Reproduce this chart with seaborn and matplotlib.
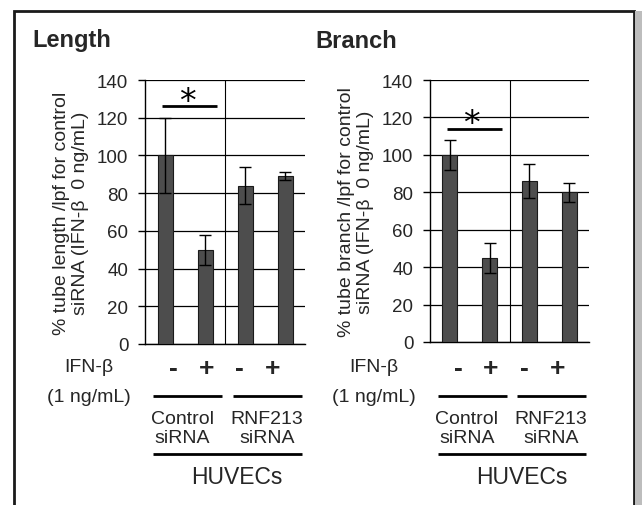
import matplotlib
matplotlib.use("Agg")
import matplotlib.pyplot as plt
import matplotlib.transforms as mtransforms
from matplotlib.patches import Rectangle
import seaborn as sns
import pandas as pd

# ---- data ----
conditions = ["Control -", "Control +", "RNF213 -", "RNF213 +"]
length_mean = [100, 50, 84, 89]
length_err = [20, 8, 10, 2]
branch_mean = [100, 45, 86, 80]
branch_err = [8, 8, 9, 5]
ifn_labels = ["-", "+", "-", "+"]
group_labels = ["Control\nsiRNA", "RNF213\nsiRNA"]
yticks = [0, 20, 40, 60, 80, 100, 120, 140]
titles = ["Length", "Branch"]
ylabels = ["% tube length /lpf for control\nsiRNA (IFN-\u03b2  0 ng/mL)",
           "% tube branch /lpf for control\nsiRNA (IFN-\u03b2  0 ng/mL)"]
sig_y = [126, 114]

sns.set_theme(style="white")
plt.rcParams["font.family"] = ["Liberation Sans", "DejaVu Sans"]

W, H = 642, 506
fig = plt.figure(figsize=(W / 100, H / 100), dpi=100)

def fx(px):
    return px / W

def fy(py):
    return 1 - py / H

axes_px = [(145, 81, 305, 345), (430, 81, 589, 343)]
title_px = [32, 315]
label_x_px = [89, 374]
sign_pos = [0.22, 1.03, 1.87, 2.7]

for i, (means, errs) in enumerate([(length_mean, length_err), (branch_mean, branch_err)]):
    l, t, r, b = axes_px[i]
    ax = fig.add_axes([fx(l), fy(b), fx(r) - fx(l), fy(t) - fy(b)])
    df = pd.DataFrame({"cond": conditions, "val": means})
    sns.barplot(data=df, x="cond", y="val", ax=ax, color="#4d4d4d",
                edgecolor="#1a1a1a", linewidth=0.8, width=0.375,
                errorbar=None, saturation=1, zorder=3)
    ax.errorbar(range(len(conditions)), means, yerr=errs, fmt="none",
                ecolor="black", elinewidth=1, capsize=4, capthick=1, zorder=4)
    ax.set_xlim(-0.5, 3.5)
    ax.set_ylim(0, 140)
    ax.set_yticks(yticks)
    ax.set_yticklabels([str(v) for v in yticks], fontsize=13.5)
    ax.tick_params(axis="y", length=5, width=1, color="black", pad=7, left=True)
    ax.set_xticks([])
    ax.set_xlabel("")
    ax.set_ylabel(ylabels[i], fontsize=14, labelpad=6, linespacing=1.1)
    ax.grid(axis="y", color="black", linewidth=0.9, zorder=0)
    ax.set_axisbelow(True)
    ax.axvline(1.5, color="black", linewidth=0.8, zorder=1)
    for s in ["top", "right"]:
        ax.spines[s].set_visible(False)
    for s in ["left", "bottom"]:
        ax.spines[s].set_color("black")
        ax.spines[s].set_linewidth(1)

    # significance
    ax.plot([-0.07, 1.3], [sig_y[i], sig_y[i]], color="black", lw=2, zorder=5,
            solid_capstyle="butt")
    ax.text(0.55, sig_y[i] + 2.5, "*", ha="center", va="center", fontsize=24,
            family="DejaVu Sans", color="black")

    # annotations below axis
    tr = mtransforms.blended_transform_factory(ax.transData, fig.transFigure)
    for xp, lab in zip(sign_pos, ifn_labels):
        ax.text(xp, fy(369), lab, transform=tr, ha="center", va="center",
                fontsize=19, fontweight="bold", clip_on=False)
    fig.text(fx(label_x_px[i]), fy(368), "IFN-\u03b2", ha="center", va="center", fontsize=14)
    fig.text(fx(label_x_px[i]), fy(397), "(1 ng/mL)", ha="center", va="center", fontsize=14)
    for x0, x1 in [(-0.3, 1.425), (1.7, 3.425)]:
        ax.plot([x0, x1], [fy(397), fy(397)], transform=tr, color="black",
                lw=2, clip_on=False, solid_capstyle="butt")
    for xc, g in zip([0.425, 2.55], group_labels):
        ax.text(xc, fy(429), g, transform=tr, ha="center", va="center",
                fontsize=14, linespacing=1.2, clip_on=False)
    ax.plot([-0.3, 3.425], [fy(455), fy(455)], transform=tr, color="black",
            lw=2, clip_on=False, solid_capstyle="butt")
    ax.text(1.8, fy(478), "HUVECs", transform=tr, ha="center", va="center",
            fontsize=16.5, clip_on=False)

    fig.text(fx(title_px[i]), fy(41), titles[i], ha="left", va="center",
             fontsize=17, fontweight="bold")

# outer frame
fig.patches.append(Rectangle((fx(14), -0.05), fx(634) - fx(14), fy(12) + 0.05,
                             transform=fig.transFigure, fill=False,
                             edgecolor="#1a1a1a", linewidth=2))
fig.patches.append(Rectangle((fx(635), 0), fx(642) - fx(635), fy(12),
                             transform=fig.transFigure, facecolor="#bdbdbd",
                             edgecolor="none"))

fig.savefig("out.png", dpi=100)
